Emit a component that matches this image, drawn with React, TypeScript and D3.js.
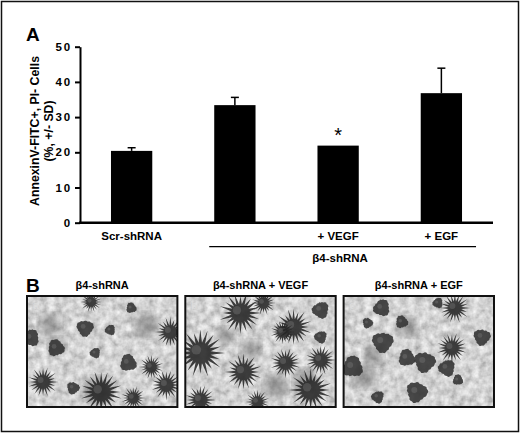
import React, { useEffect, useRef } from 'react';
import * as d3 from 'd3';

// bar chart values (panel A)
const groups = ['scr', 'b4', 'vegf', 'egf'];
const groupLabels = ['Scr-shRNA', '', '+ VEGF', '+ EGF'];
const means = [20.4, 33.4, 21.9, 36.8];
const sds = [0.9, 2.2, 0, 7.1];
const starred = [false, false, true, false];
const yTicks = [0, 10, 20, 30, 40, 50];

// panel B titles
const photoTitles = ['β4-shRNA', 'β4-shRNA + VEGF', 'β4-shRNA + EGF'];
const photoTags = ['a', 'b', 'c'];
// rough positions of the dark spheroids in each photo: [x, y, r, spiky]
const blobsA = [
  [4, 42, 8, 0], [29, 52, 8, 0], [58, 32, 8, 0], [83, 34, 5, 0], [104, 12, 5, 0],
  [143, 36, 10, 1], [68, 57, 5, 0], [101, 67, 8, 0], [124, 71, 8, 1], [139, 89, 10, 1],
  [16, 86, 10, 1], [46, 92, 6, 0], [74, 96, 14, 1], [106, 102, 8, 1], [64, 6, 7, 1],
];
const blobsB = [
  [55, 17, 14, 1], [78, 7, 8, 1], [108, 31, 12, 1], [97, 36, 8, 1], [15, 57, 16, 1],
  [58, 76, 12, 1], [100, 67, 10, 1], [135, 64, 10, 1], [125, 94, 14, 1], [135, 14, 8, 0],
  [15, 104, 10, 1], [72, 106, 8, 1], [135, 41, 6, 0],
];
const blobsC = [
  [38, 12, 8, 0], [58, 26, 6, 0], [39, 46, 10, 0], [94, 7, 5, 0], [111, 12, 10, 1],
  [138, 41, 8, 0], [108, 52, 10, 1], [63, 62, 8, 0], [81, 66, 10, 0], [103, 72, 8, 0],
  [114, 84, 5, 0], [73, 96, 10, 0], [34, 101, 6, 0], [9, 71, 10, 0], [24, 27, 5, 0],
];
const halos = [
  [[119, 29, 12], [23, 29, 11], [30, 50, 9], [70, 95, 14]],
  [[65, 54, 10], [90, 90, 12], [40, 40, 9], [120, 85, 12]],
  [[64, 31, 10], [30, 60, 10], [20, 80, 12]],
];
const photoBlobs = [blobsA, blobsB, blobsC];

const FONT = 'Liberation Sans, Arial, sans-serif';

const App: React.FC = () => {
  const svgRef = useRef<SVGSVGElement>(null);

  useEffect(() => {
    if (!svgRef.current) return;
    const svg = d3.select(svgRef.current);
    svg.selectAll('*').remove();

    const width = 520;
    const height = 433;
    const margin = { top: 46.7, bottom: 222.7, left: 80, right: 493 };

    svg.append('rect')
      .attr('x', 1.5).attr('y', 1.5)
      .attr('width', width - 3).attr('height', height - 3)
      .attr('fill', '#fff').attr('stroke', '#111').attr('stroke-width', 1.5);

    // ----- panel A -----
    const x = d3.scaleBand()
      .domain(groups)
      .range([margin.left, margin.right])
      .paddingInner(0.6)
      .paddingOuter(0.3);

    const y = d3.scaleLinear()
      .domain([0, 50])
      .range([margin.bottom, margin.top]);

    svg.append('text')
      .attr('x', 26).attr('y', 41)
      .attr('font-family', FONT).attr('font-weight', 'bold').attr('font-size', 19)
      .text('A');

    // bars
    svg.append('g')
      .selectAll('rect')
      .data(groups)
      .join('rect')
      .attr('x', d => x(d) ?? 0)
      .attr('y', (d, i) => y(means[i]))
      .attr('width', x.bandwidth())
      .attr('height', (d, i) => y(0) - y(means[i]))
      .attr('fill', '#000');

    // error bars
    const eb = svg.append('g').attr('stroke', '#000').attr('stroke-width', 1.5);
    groups.forEach((g, i) => {
      if (sds[i] <= 0) return;
      const cx = (x(g) ?? 0) + x.bandwidth() / 2;
      eb.append('line')
        .attr('x1', cx).attr('x2', cx)
        .attr('y1', y(means[i])).attr('y2', y(means[i] + sds[i]));
      eb.append('line')
        .attr('x1', cx - 4).attr('x2', cx + 4)
        .attr('y1', y(means[i] + sds[i])).attr('y2', y(means[i] + sds[i]));
    });

    // significance star
    groups.forEach((g, i) => {
      if (!starred[i]) return;
      svg.append('text')
        .attr('x', (x(g) ?? 0) + x.bandwidth() / 2)
        .attr('y', y(means[i]) - 4)
        .attr('text-anchor', 'middle')
        .attr('font-family', FONT).attr('font-size', 20)
        .text('*');
    });

    // y axis
    const yAxis = svg.append('g')
      .attr('transform', `translate(${margin.left},0)`)
      .call(d3.axisLeft(y).tickValues(yTicks).tickSize(5).tickPadding(3).tickSizeOuter(0));
    yAxis.select('.domain').attr('stroke-width', 2);
    yAxis.selectAll('.tick line').attr('stroke-width', 2);
    yAxis.selectAll('.tick text')
      .attr('font-family', FONT).attr('font-weight', 'bold').attr('font-size', 11.5)
      .attr('letter-spacing', 1.8);

    // x axis
    const xAxis = svg.append('g')
      .attr('transform', `translate(0,${margin.bottom})`)
      .call(d3.axisBottom(x).tickSize(0).tickSizeOuter(0).tickPadding(9)
        .tickFormat((d, i) => groupLabels[i]));
    xAxis.select('.domain').attr('stroke-width', 2.5)
      .attr('d', `M${margin.left - 1},0H${margin.right}`);
    xAxis.selectAll('.tick text')
      .attr('font-family', FONT).attr('font-weight', 'bold').attr('font-size', 11.5);

    // group bracket
    const x0 = (x('b4') ?? 0) - 5;
    const x1 = (x('egf') ?? 0) + x.bandwidth() + 14;
    svg.append('line')
      .attr('x1', x0).attr('x2', x1)
      .attr('y1', 246.7).attr('y2', 246.7)
      .attr('stroke', '#000').attr('stroke-width', 1.2);
    svg.append('text')
      .attr('x', (x('vegf') ?? 0) + x.bandwidth() / 2 + 2).attr('y', 262)
      .attr('text-anchor', 'middle')
      .attr('font-family', FONT).attr('font-weight', 'bold').attr('font-size', 11.5)
      .text('β4-shRNA');

    // y label
    const yl = svg.append('text')
      .attr('transform', 'translate(35,131) rotate(-90)')
      .attr('text-anchor', 'middle')
      .attr('font-family', FONT).attr('font-weight', 'bold').attr('font-size', 12.3);
    yl.append('tspan').attr('x', 0).attr('y', 4).text('AnnexinV-FITC+, PI- Cells');
    yl.append('tspan').attr('x', 0).attr('y', 18).text('(%, +/- SD)');

    // ----- panel B -----
    svg.append('text')
      .attr('x', 26).attr('y', 292)
      .attr('font-family', FONT).attr('font-weight', 'bold').attr('font-size', 19)
      .text('B');

    const defs = svg.append('defs');
    const filt = defs.append('filter').attr('id', 'grain')
      .attr('x', 0).attr('y', 0).attr('width', '100%').attr('height', '100%');
    filt.append('feTurbulence')
      .attr('type', 'fractalNoise').attr('baseFrequency', 0.14)
      .attr('numOctaves', 3).attr('seed', 4);
    filt.append('feColorMatrix').attr('type', 'matrix')
      .attr('values', '0.7 0 0 0 0.3  0.7 0 0 0 0.3  0.7 0 0 0 0.3  0 0 0 0 1');
    const soft = defs.append('filter').attr('id', 'soft');
    soft.append('feGaussianBlur').attr('stdDeviation', 0.7);
    const haloF = defs.append('filter').attr('id', 'halo');
    haloF.append('feGaussianBlur').attr('stdDeviation', 4);

    const px = d3.scaleBand()
      .domain(photoTitles)
      .range([27, 494])
      .paddingInner(0.05);
    const pw = px.bandwidth();
    const ph = 111;
    const pyTop = 296;
    const sx = d3.scaleLinear().domain([0, 150]).range([0, pw]);

    photoTitles.forEach((t, pi) => {
      const left = px(t) ?? 0;
      svg.append('text')
        .attr('x', left + pw / 2).attr('y', 289)
        .attr('text-anchor', 'middle')
        .attr('font-family', FONT).attr('font-weight', 'bold').attr('font-size', 11)
        .text(t);

      const clipId = `clip${pi}`;
      defs.append('clipPath').attr('id', clipId)
        .append('rect').attr('width', pw).attr('height', ph);

      const g = svg.append('g')
        .attr('transform', `translate(${left},${pyTop})`);
      const inner = g.append('g').attr('clip-path', `url(#${clipId})`);
      inner.append('rect').attr('width', pw).attr('height', ph)
        .attr('fill', '#b5b5b5').attr('filter', 'url(#grain)');

      halos[pi].forEach(([hx, hy, hr]) => {
        inner.append('circle')
          .attr('cx', sx(hx)).attr('cy', hy).attr('r', hr)
          .attr('fill', '#555').attr('opacity', 0.45).attr('filter', 'url(#halo)');
      });

      const n = 40;
      const radial = d3.lineRadial<number>()
        .angle((d, k) => (k / n) * Math.PI * 2)
        .curve(d3.curveLinearClosed);

      photoBlobs[pi].forEach(([bx, by, br, spiky], bi) => {
        const pts = d3.range(n).map(k => {
          const wobble = spiky
            ? (k % 2 === 0 ? 1.2 + 0.35 * Math.abs(Math.sin(k * 2.3 + bi)) : 0.65)
            : 1 + 0.12 * Math.sin(k * 0.5 + bi * 2) + 0.05 * Math.sin(k * 2.1);
          return br * wobble;
        });
        inner.append('path')
          .attr('transform', `translate(${sx(bx)},${by})`)
          .attr('d', radial.radius(d => d)(pts) ?? '')
          .attr('fill', spiky ? '#262626' : '#333')
          .attr('opacity', 0.88)
          .attr('filter', 'url(#soft)');
        inner.append('circle')
          .attr('cx', sx(bx) - br * 0.25).attr('cy', by - br * 0.2).attr('r', br * 0.3)
          .attr('fill', '#777').attr('opacity', 0.4);
      });

      inner.append('text')
        .attr('x', 6).attr('y', 13)
        .attr('font-family', FONT).attr('font-size', 10)
        .attr('fill', '#ddd')
        .text(photoTags[pi]);

      g.append('rect').attr('width', pw).attr('height', ph)
        .attr('fill', 'none').attr('stroke', '#111').attr('stroke-width', 2);
    });
  }, []);

  return (
    <svg
      ref={svgRef}
      width={520}
      height={433}
      style={{ position: 'absolute', left: 0, top: 0 }}
    />
  );
};

export default App;
